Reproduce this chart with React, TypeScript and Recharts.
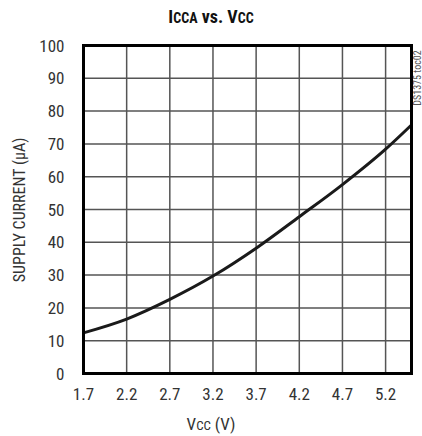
import React from 'react';
import { LineChart, Line, XAxis, YAxis, CartesianGrid } from 'recharts';

// supply voltage (V) and supply current (uA)
const vcc = [1.7, 2.2, 2.7, 3.2, 3.7, 4.2, 4.7, 5.2, 5.5];
const icca = [12.4, 16.6, 22.6, 29.7, 38.2, 47.8, 57.6, 68.4, 75.8];

const xTicks = [1.7, 2.2, 2.7, 3.2, 3.7, 4.2, 4.7, 5.2];
const xGrid = [1.7, 2.2, 2.7, 3.2, 3.7, 4.2, 4.7, 5.2, 5.5];
const yTicks = [0, 10, 20, 30, 40, 50, 60, 70, 80, 90, 100];

const data = vcc.map((v, i) => ({ vcc: v, icca: icca[i] }));

const FONT = '"Liberation Sans Narrow", "Arial Narrow", "Roboto Condensed", sans-serif';

export default function App() {
  return (
    <div style={{ position: 'absolute', left: 0, top: 0, width: 422, height: 436, background: '#fff', fontFamily: FONT }}>
      <div style={{ position: 'absolute', left: 0, width: 422, top: 6, textAlign: 'center', fontWeight: 'bold', fontSize: 18, color: '#111' }}>
        I<span style={{ fontSize: 14 }}>CCA</span> vs. V<span style={{ fontSize: 14 }}>CC</span>
      </div>
      <div
        style={{
          position: 'absolute',
          left: 19,
          top: 210,
          transform: 'translate(-50%, -50%) rotate(-90deg)',
          whiteSpace: 'nowrap',
          fontSize: 16,
          color: '#333',
        }}
      >
        SUPPLY CURRENT (µA)
      </div>
      <div
        style={{
          position: 'absolute',
          left: 417,
          top: 78,
          transform: 'translate(-50%, -50%) rotate(-90deg)',
          whiteSpace: 'nowrap',
          fontSize: 10,
          color: '#555',
        }}
      >
        DS1375 toc02
      </div>
      <div style={{ position: 'absolute', left: 0, width: 422, top: 414, textAlign: 'center', fontSize: 17, color: '#333' }}>
        V<span style={{ fontSize: 13 }}>CC</span> (V)
      </div>
      <LineChart
        width={422}
        height={436}
        data={data}
        margin={{ top: 45.5, right: 10.5, bottom: 0, left: 23.5 }}
      >
        <CartesianGrid stroke="#555" strokeWidth={1.5} verticalValues={xGrid} horizontalValues={yTicks} />
        <XAxis
          dataKey="vcc"
          type="number"
          domain={[1.7, 5.5]}
          ticks={xTicks}
          interval={0}
          height={62.5}
          axisLine={false}
          tickLine={false}
          tick={{ fill: '#333', fontSize: 17, fontFamily: FONT, dy: 6 }}
          tickFormatter={(v: number) => v.toFixed(1)}
        />
        <YAxis
          type="number"
          domain={[0, 100]}
          ticks={yTicks}
          interval={0}
          width={60}
          axisLine={false}
          tickLine={false}
          tick={{ fill: '#333', fontSize: 17, fontFamily: FONT, dx: -11 }}
        />
        <Line
          type="monotone"
          dataKey="icca"
          stroke="#1a1a1a"
          strokeWidth={3}
          dot={false}
          isAnimationActive={false}
        />
      </LineChart>
      {/* heavy frame round the plot area */}
      <div
        style={{
          position: 'absolute',
          left: 82,
          top: 44,
          width: 331,
          height: 331,
          boxSizing: 'border-box',
          border: '3px solid #000',
          pointerEvents: 'none',
        }}
      />
    </div>
  );
}
